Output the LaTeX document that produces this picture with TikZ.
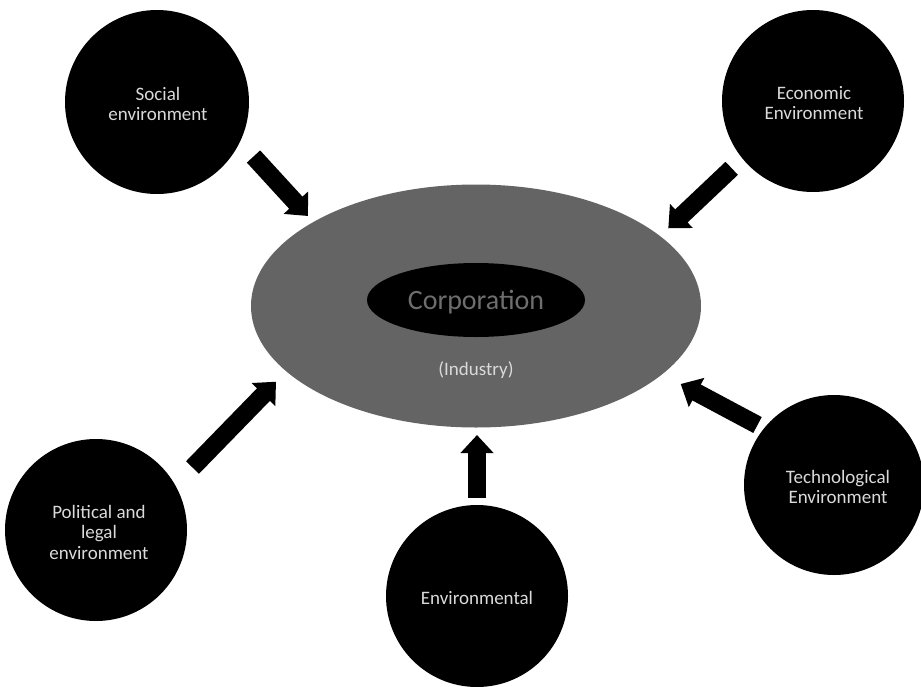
\documentclass[tikz,border=0pt]{standalone}
\usepackage{fontspec}
\setmainfont{Carlito}
\usetikzlibrary{shapes.geometric,arrows.meta,calc}
\definecolor{ringgray}{HTML}{646464}
\definecolor{labelgray}{HTML}{DADADA}
\definecolor{corptext}{HTML}{6E6E6E}
\tikzset{
  forcecircle/.style={circle, fill=black, inner sep=0pt, minimum size=182pt},
  forcelabel/.style={text=labelgray, align=center, font=\fontsize{19}{20.5}\selectfont},
  blockarrow/.style={draw=black, line width=18pt, line cap=butt,
    -{Triangle[length=18pt,width=32pt]}},
}
\begin{document}
\begin{tikzpicture}[x=1pt,y=-1pt]
\useasboundingbox (0,0) rectangle (921,686);
\fill[white] (0,0) rectangle (921,686);

% industry ring and corporation core
\node[ellipse, fill=ringgray, minimum width=450pt, minimum height=243pt, inner sep=0pt] (industry) at (476,306) {};
\node[ellipse, fill=black, minimum width=218pt, minimum height=74pt, inner sep=0pt] (corp) at (476,300) {};
\node[text=corptext, font=\fontsize{28}{30}\selectfont] (corplabel) at (476,302) {Corporation};
\node[text=labelgray, font=\fontsize{19}{20}\selectfont] (indlabel) at (476,370) {(Industry)};

% external environments
\node[forcecircle, minimum size=184pt] (social) at (157,102) {};
\node[forcecircle] (economic) at (813,101) {};
\node[forcecircle] (political) at (96,530) {};
\node[forcecircle] (environ) at (477,596) {};
\node[forcecircle, minimum size=180pt] (techno) at (834,485) {};

\node[forcelabel] (socialtxt) at ($(social)+(1,2)$) {Social\\environment};
\node[forcelabel] (economictxt) at ($(economic)+(1,2)$) {Economic\\Environment};
\node[forcelabel] (politicaltxt) at ($(political)+(3,2)$) {Political and\\legal\\environment};
\node[forcelabel] (environtxt) at ($(environ)+(0,2)$) {Environmental};
\node[forcelabel] (technotxt) at ($(techno)+(4,2)$) {Technological\\Environment};

% arrow ends
\coordinate (sA) at (253.5,156.5);  \coordinate (sB) at (308,216);
\coordinate (eA) at (731.7,168.3);  \coordinate (eB) at (668.3,228.3);
\coordinate (pA) at (192.5,467.5);  \coordinate (pB) at (276,381.7);
\coordinate (tA) at (757.5,425);    \coordinate (tB) at (680.7,384);
\coordinate (vA) at (477,498);      \coordinate (vB) at (477,435);

\draw[blockarrow] (sA) -- (sB);
\draw[blockarrow] (eA) -- (eB);
\draw[blockarrow] (pA) -- (pB);
\draw[blockarrow] (tA) -- (tB);
\draw[blockarrow] (vA) -- (vB);
\end{tikzpicture}
\end{document}
